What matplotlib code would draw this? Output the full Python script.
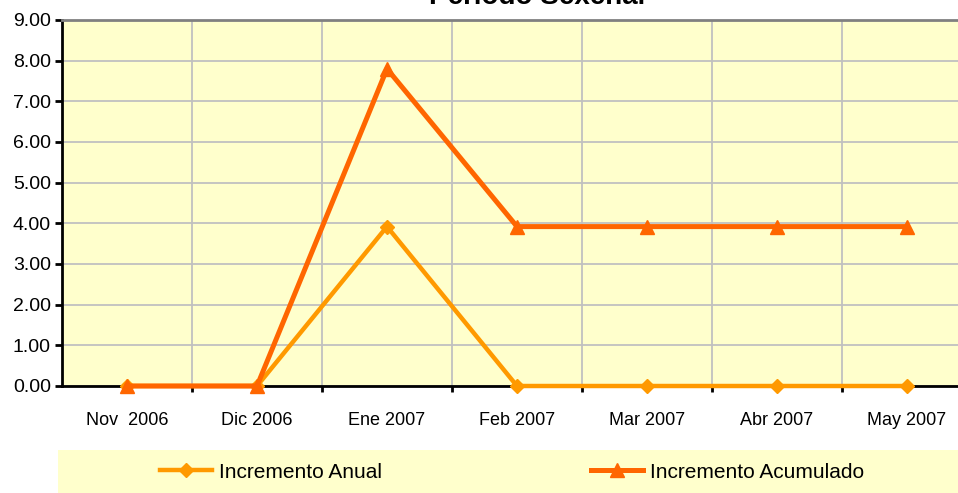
import matplotlib.pyplot as plt
from matplotlib.patches import Rectangle

# datos del grafico
meses = ["Nov  2006", "Dic 2006", "Ene 2007", "Feb 2007", "Mar 2007", "Abr 2007", "May 2007"]
incremento_anual = [0.0, 0.0, 3.92, 0.0, 0.0, 0.0, 0.0]
incremento_acumulado = [0.0, 0.0, 7.8, 3.92, 3.92, 3.92, 3.92]
y_ticks = [0, 1, 2, 3, 4, 5, 6, 7, 8, 9]

plt.rcParams['font.family'] = ['Liberation Sans', 'DejaVu Sans']

W, H = 958, 493
fig = plt.figure(figsize=(W / 100, H / 100), dpi=100)

# area del grafico (en pixeles)
ax = fig.add_axes([62 / W, 1 - 386 / H, 910 / W, (386 - 20) / H])
ax.set_facecolor("#FFFFCC")

x = list(range(len(meses)))
ax.plot(x, incremento_anual, color="#FF9900", lw=3.2, marker="D", markersize=7,
        label="Incremento Anual", zorder=3, clip_on=False)
ax.plot(x, incremento_acumulado, color="#FF6600", lw=3.6, marker="^", markersize=10,
        label="Incremento Acumulado", zorder=4, clip_on=False)

ax.set_xlim(-0.5, len(meses) - 0.5)
ax.set_ylim(0, 9)

# ticks en los limites de cada categoria, etiquetas en el centro
ax.set_xticks([i + 0.5 for i in range(len(meses) - 1)])
ax.set_xticklabels([])
ax.set_xticks(x, minor=True)
ax.set_xticklabels(meses, minor=True, fontsize=13)
ax.tick_params(axis="x", which="major", direction="out", length=4, width=2, color="black")
ax.tick_params(axis="x", which="minor", length=0, pad=19)

ax.set_yticks(y_ticks)
ax.set_yticklabels([f"{v:.2f}" for v in y_ticks], fontsize=14)
ax.tick_params(axis="y", direction="out", length=5, width=2, pad=3)

ax.grid(True, color="#C0C0C0", lw=1.3)
ax.set_axisbelow(True)

ax.spines["left"].set_linewidth(2)
ax.spines["bottom"].set_linewidth(2)
ax.spines["top"].set_color("#808080")
ax.spines["top"].set_linewidth(2)
ax.spines["right"].set_visible(False)

# titulo (cortado arriba) con fondo blanco
fig.patches.append(Rectangle((418 / W, 1 - 17 / H), (656 - 418) / W, 17 / H,
                             transform=fig.transFigure, facecolor="white",
                             edgecolor="none", zorder=5))
fig.text(537 / W, 1 - 4 / H, "Periodo Sexenal", fontsize=20, fontweight="bold",
         ha="center", va="baseline", zorder=6)

# leyenda con fondo amarillo
fig.patches.append(Rectangle((58 / W, 0), (W - 58) / W, (H - 450) / H,
                             transform=fig.transFigure, facecolor="#FFFFCC",
                             edgecolor="none", zorder=0))
fig.legend(loc="center left", bbox_to_anchor=(160 / W, 1 - 472 / H), ncol=2,
           frameon=False, fontsize=15, handlelength=2.5, handletextpad=0.35,
           columnspacing=10, borderpad=0, borderaxespad=0)

plt.savefig("out.png", dpi=100)
